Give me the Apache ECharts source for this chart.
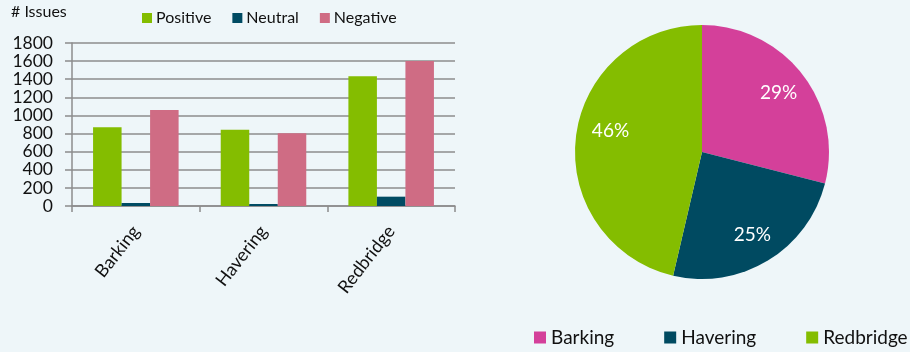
<!DOCTYPE html>
<html><head><meta charset="utf-8">
<script src="https://cdn.jsdelivr.net/npm/echarts@6/dist/echarts.min.js"></script>
<style>html,body{margin:0;padding:0;background:#EEF6F9}#c{width:910px;height:352px}</style>
</head><body><div id="c"></div>
<script>
const categories = ['Barking', 'Havering', 'Redbridge'];
const positive = [869, 843, 1432];
const neutral = [33, 22, 103];
const negative = [1060, 803, 1601];
const pieNames = ['Barking', 'Havering', 'Redbridge'];
const pieValues = [1962, 1668, 3136];
const yTicks = [0, 200, 400, 600, 800, 1000, 1200, 1400, 1600, 1800];

const F = 'Lato';
const gridColor = '#8c8c8c';
const pieColors = ['#D4409A', '#004A61', '#84BD00'];
const pieData = pieNames.map((n, i) => ({name: n, value: pieValues[i], itemStyle: {color: pieColors[i]}}));
const labelData = pieNames.map((n, i) => {
  const d = {name: n, value: pieValues[i]};
  if (i === 2) d.label = {formatter: '  {d}%\n ', lineHeight: 20};
  return d;
});

const chart = echarts.init(document.getElementById('c'));
chart.setOption({
  backgroundColor: '#EEF6F9',
  animation: false,
  textStyle: {fontFamily: F},
  graphic: [{type: 'text', left: 11, top: 4, style: {text: '# Issues', font: '16px Lato', fill: '#111'}}],
  legend: [{
    data: ['Positive', 'Neutral', 'Negative'],
    left: 142, top: 10, padding: 0, icon: 'rect', itemWidth: 10, itemHeight: 10, itemGap: 21,
    textStyle: {fontFamily: F, fontSize: 16, color: '#111', padding: [0, 0, 0, -1]}
  }, {
    data: pieNames,
    left: 534, top: 328, padding: 0, icon: 'rect', itemWidth: 12, itemHeight: 12, itemGap: 50,
    textStyle: {fontFamily: F, fontSize: 19, color: '#111'}
  }],
  grid: {left: 72, right: 455, top: 43, bottom: 146, containLabel: false},
  xAxis: {
    type: 'category', data: categories,
    axisLine: {lineStyle: {color: gridColor, width: 1.5}},
    axisTick: {show: true, length: 6, lineStyle: {color: gridColor, width: 1.5}},
    axisLabel: {rotate: 52, margin: 22, fontFamily: F, fontSize: 18, color: '#111'}
  },
  yAxis: {
    type: 'value', min: 0, max: 1800, interval: 200,
    axisLine: {show: true, lineStyle: {color: gridColor, width: 1.5}},
    axisTick: {show: true, length: 7, lineStyle: {color: gridColor, width: 1.5}},
    splitLine: {lineStyle: {color: gridColor, width: 1.5}},
    axisLabel: {margin: 19, fontFamily: F, fontSize: 17.5, color: '#111',
      formatter: v => yTicks.includes(v) ? String(v) : ''}
  },
  series: [
    {name: 'Positive', type: 'bar', data: positive, itemStyle: {color: '#84BD00'}, barGap: '0%', barCategoryGap: '33%'},
    {name: 'Neutral', type: 'bar', data: neutral, itemStyle: {color: '#004B63'}},
    {name: 'Negative', type: 'bar', data: negative, itemStyle: {color: '#CF6C84'}},
    {type: 'pie', center: [702, 152], radius: [0, 127], startAngle: 90, clockwise: true,
      data: pieData, label: {show: false}, labelLine: {show: false}, silent: true,
      itemStyle: {borderWidth: 0}},
    {type: 'pie', center: [702, 152], radius: [61, 127], startAngle: 90, clockwise: true,
      data: labelData, percentPrecision: 0, silent: true, legendHoverLink: false,
      itemStyle: {color: 'rgba(0,0,0,0)', borderWidth: 0},
      label: {show: true, position: 'inside', formatter: '{d}%', fontFamily: F, fontSize: 19, color: '#fff'},
      labelLine: {show: false}, emphasis: {disabled: true}}
  ]
});
</script></body></html>
